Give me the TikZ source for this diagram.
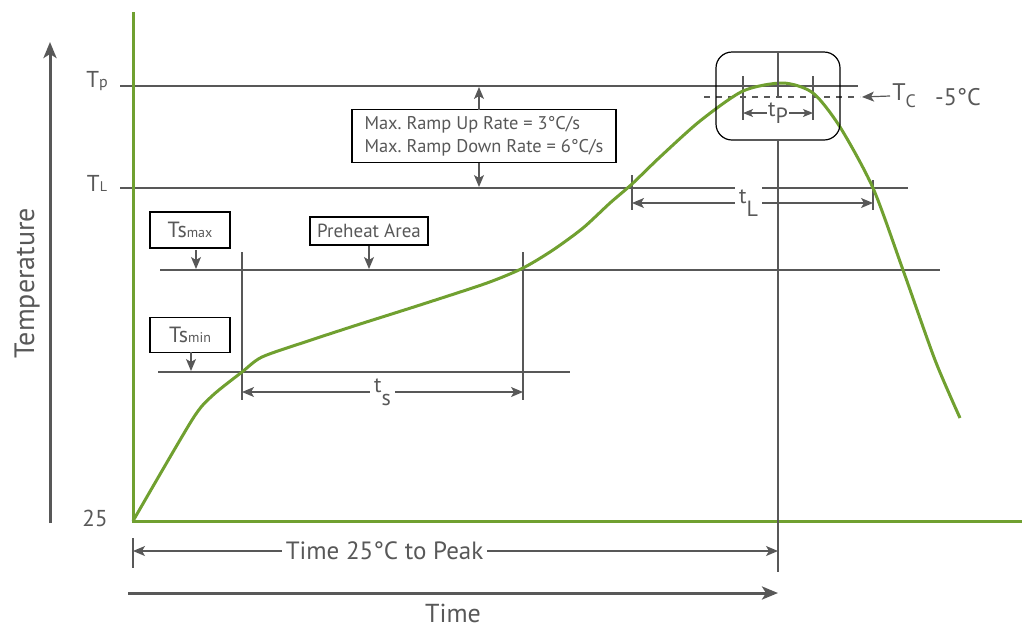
\documentclass[tikz,border=0pt]{standalone}
\usepackage{fontspec}
\setmainfont{PT Sans}
\usepackage{tikz}
\usetikzlibrary{arrows.meta}
\definecolor{curve}{RGB}{112,160,48}
\definecolor{ink}{RGB}{88,88,88}
\newcommand{\lo}[2][0.4ex]{\raisebox{-#1}{#2}}
\frenchspacing

\begin{document}
\begin{tikzpicture}[x=0.5pt,y=-0.5pt,>={Stealth[length=6pt,width=5pt,inset=1.5pt]},
    guide/.style={draw=ink,line width=0.6pt},
    axis/.style={draw=ink,line width=1.5pt,>={Stealth[length=8pt,width=6.5pt,inset=2pt]}},
    txt/.style={text=ink,inner sep=1pt,font=\fontsize{11}{13}\selectfont},
    tagbox/.style={txt,draw=black,line width=0.6pt,fill=white,inner sep=0pt},
    gap/.style={txt,fill=white,inner sep=2pt}]
      \useasboundingbox (0,0) rectangle (1022,628);

      % guide lines
      \draw[guide] (120,86) -- (858,86);
      \draw[guide] (120,188) -- (908,188);
      \draw[guide] (160,270) -- (940,270);
      \draw[guide] (158,372) -- (570,372);
      \draw[guide] (242,252) -- (242,400);
      \draw[guide] (523,252) -- (523,400);
      \draw[guide] (632,175) -- (632,210);
      \draw[guide] (873,180) -- (873,210);
      \draw[guide] (133,538) -- (133,568);
      \draw[guide,dashed] (704,97) -- (860,97);
      \draw[guide,line width=1pt] (743,76) -- (743,120);
      \draw[guide,line width=1pt] (813,76) -- (813,120);

      % axes
      \draw[curve,line width=1.5pt] (133,12) -- (133,521) -- (1022,521);
      \draw[axis,->] (50,523) -- (50,42);
      \draw[axis,->] (128,593) -- (778,593);

      % profile
      \draw[curve,line width=1.5pt] plot[smooth,tension=0.45] coordinates {
        (133,521) (192,420) (212,396) (242,372) (262,357) (305,342) (357,325)
        (420,305) (487,283) (523,268) (553,250) (583,228) (610,203) (632,184)
        (660,157) (700,121) (743,91) (783,83) (813,93) (840,127) (873,188)
        (903,270) (935,360) (960,418)};

      % peak window
      \node[draw=black,line width=0.6pt,rounded corners=8pt,minimum width=62pt,minimum height=44pt] (peak) at (778,96) {};
      \draw[guide] (peak.north) -- (778,96);
      \draw[guide] (peak.south) -- (778,572);

      % labels
      \node[txt,rotate=90,font=\fontsize{14}{16}\selectfont] (temp) at (27,283) {Temperature};
      \node[txt,font=\fontsize{11.5}{13}\selectfont] (tp) at (97,81) {T{\footnotesize p}};
      \node[txt,font=\fontsize{11.5}{13}\selectfont] (tl) at (97,183) {T{\scriptsize L}};
      \node[txt,font=\fontsize{11.5}{13}\selectfont] (base) at (95,518) {25};

      \node[tagbox,minimum width=40pt,minimum height=18pt] (smax) at (190,230) {Ts{\scriptsize max}};
      \node[tagbox,font=\fontsize{9.5}{11}\selectfont,minimum width=59pt,minimum height=14pt] (heat) at (369,231) {Preheat Area};
      \node[tagbox,minimum width=40pt,minimum height=17.5pt] (smin) at (190,335) {Ts{\scriptsize min}};
      \node[tagbox,font=\fontsize{9.2}{11.5}\selectfont,align=left,minimum width=132pt,minimum height=26.5pt] (ramp) at (484,136)
        {Max. Ramp Up Rate = 3°C/s\\Max. Ramp Down Rate = 6°C/s};

      \draw[guide,->] (196,250) -- (196,269);
      \draw[guide,->] (heat.south) -- (369,269);
      \draw[guide,->] (191,352) -- (191,371);
      \draw[guide,->] (479,110) -- (479,87);
      \draw[guide,->] (479,163) -- (479,187);

      % spans
      \draw[guide,<->] (242,392) -- node[gap] (ts) {t\lo[1.2ex]{s}} (523,392);
      \draw[guide,<->] (632,203) -- node[gap,xshift=-2pt] (tL) {t\lo[1.2ex]{L}} (873,203);
      \draw[guide,<->,>={Stealth[length=5pt,width=4pt,inset=1.2pt]}] (743,113) -- node[gap,inner sep=0.5pt] (tP) {t\lo[0.6ex]{P}} (813,113);
      \draw[guide,<->] (133,551) -- node[gap,pos=0.39,font=\fontsize{12.5}{15}\selectfont] (peakt) {Time 25°C to Peak} (778,551);

      \node[txt,font=\fontsize{12}{14}\selectfont,anchor=west] (tc) at (890,96) {T\lo[0.6ex]{\small C}};
      \node[txt,font=\fontsize{12}{14}\selectfont] (five) at (958,97) {-5°C};
      \draw[guide,->] (tc.west) -- (862,97);
      \node[txt,font=\fontsize{13}{15}\selectfont,anchor=base,inner sep=0pt] (time) at (453,622) {Time};
    \end{tikzpicture}
\end{document}
